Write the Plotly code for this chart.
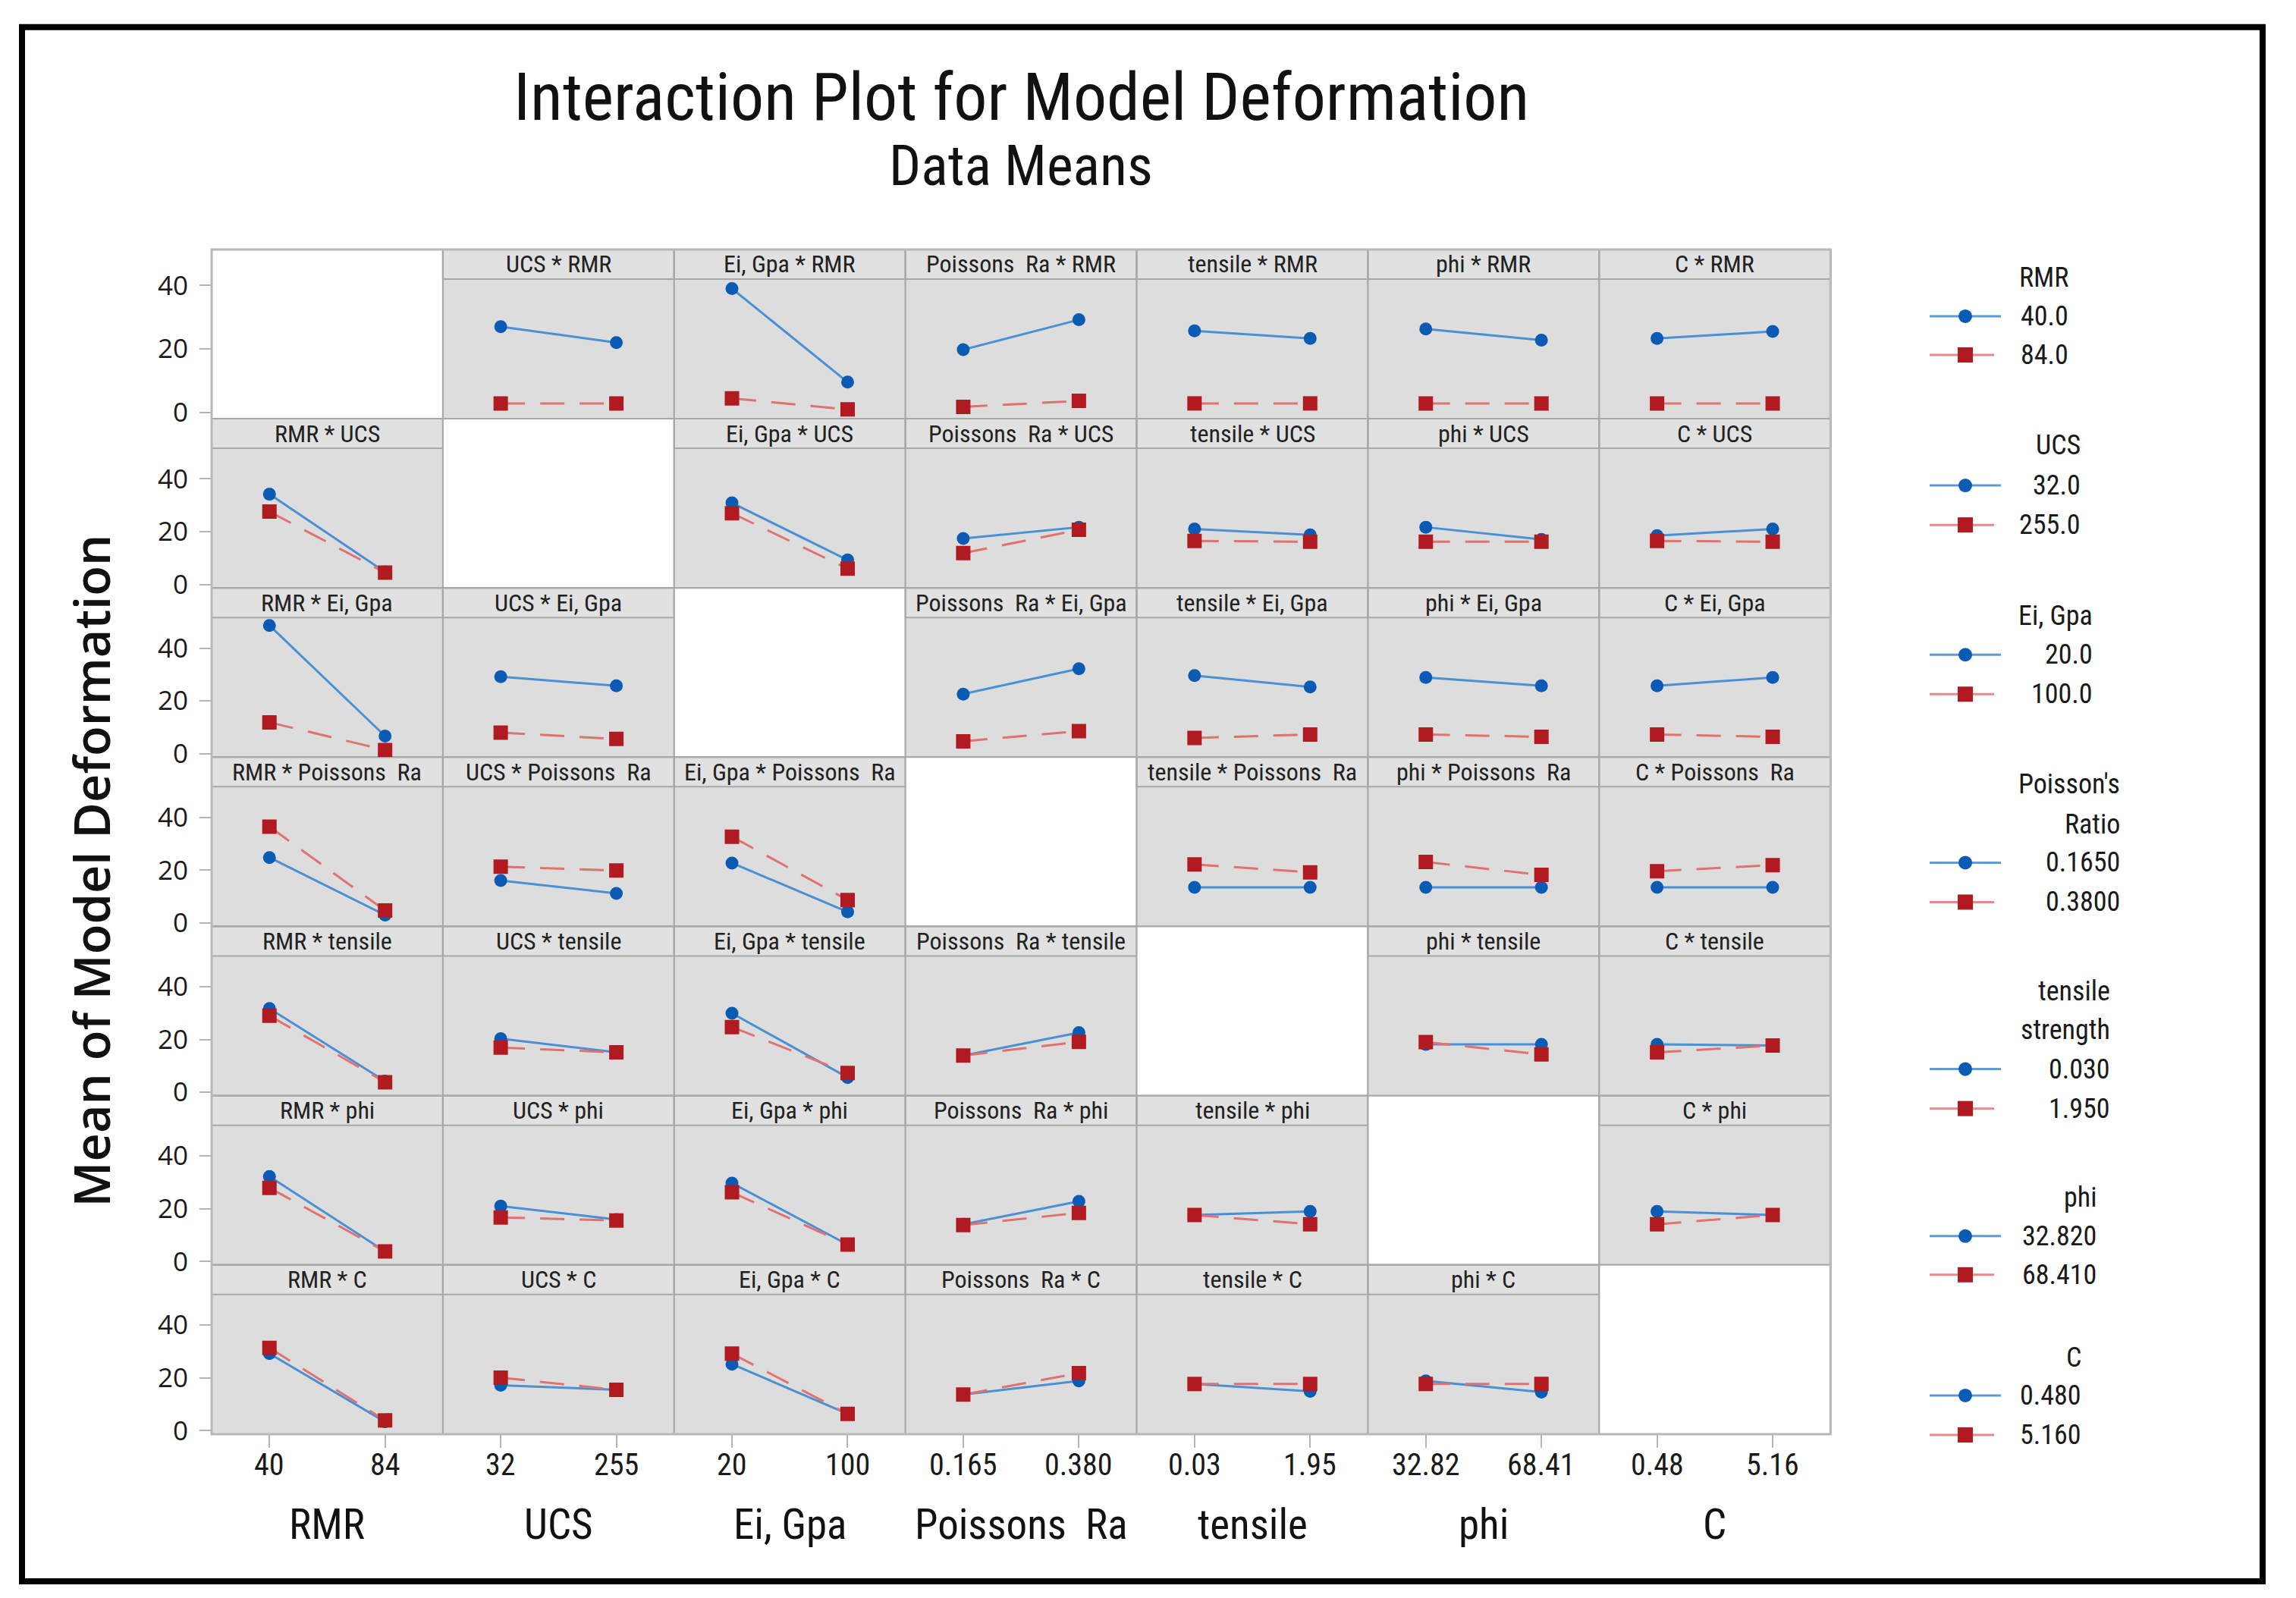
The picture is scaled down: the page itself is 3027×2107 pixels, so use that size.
import plotly.graph_objects as go

W, H = 3027, 2107

# ---------------- data ----------------
factors = ["RMR", "UCS", "Ei, Gpa", "Poissons  Ra", "tensile", "phi", "C"]
tick_labels = [["40", "84"], ["32", "255"], ["20", "100"], ["0.165", "0.380"],
               ["0.03", "1.95"], ["32.82", "68.41"], ["0.48", "5.16"]]
legend_titles = [["RMR"], ["UCS"], ["Ei, Gpa"], ["Poisson's", "Ratio"],
                 ["tensile", "strength"], ["phi"], ["C"]]
legend_levels = [["40.0", "84.0"], ["32.0", "255.0"], ["20.0", "100.0"], ["0.1650", "0.3800"],
                 ["0.030", "1.950"], ["32.820", "68.410"], ["0.480", "5.160"]]
y_ticks = [0, 20, 40]

# mean deformation; row factor at low level (blue) / high level (red);
# one pair per column factor: (column factor low, column factor high)
rmr_low  = [None, [27.0, 22.0], [39.0, 9.6], [19.8, 29.2], [25.7, 23.3], [26.3, 22.8], [23.3, 25.5]]
rmr_high = [None, [2.9, 2.9], [4.5, 1.0], [1.8, 3.7], [2.9, 2.9], [2.9, 2.9], [2.9, 2.9]]
ucs_low  = [[34.2, 4.7], None, [30.9, 9.3], [17.4, 21.7], [21.0, 18.8], [21.7, 17.1], [18.5, 21.0]]
ucs_high = [[27.6, 4.5], None, [27.0, 6.0], [11.9, 20.7], [16.5, 16.2], [16.2, 16.2], [16.5, 16.2]]
ei_low   = [[48.6, 6.7], [29.2, 25.7], None, [22.6, 32.2], [29.6, 25.3], [28.9, 25.7], [25.7, 28.9]]
ei_high  = [[11.9, 1.4], [8.0, 5.6], None, [4.7, 8.6], [6.0, 7.3], [7.3, 6.4], [7.3, 6.4]]
poi_low  = [[24.8, 3.0], [16.1, 11.2], [22.7, 4.2], None, [13.5, 13.5], [13.5, 13.5], [13.5, 13.5]]
poi_high = [[36.5, 4.7], [21.3, 19.9], [32.7, 8.7], None, [22.2, 19.2], [23.1, 18.2], [19.6, 21.9]]
ten_low  = [[31.7, 4.2], [20.3, 15.1], [29.9, 5.6], [13.9, 22.6], None, [18.1, 18.1], [18.1, 17.7]]
ten_high = [[29.0, 3.8], [16.9, 15.1], [24.7, 7.3], [13.9, 19.1], None, [19.0, 14.3], [15.1, 17.7]]
phi_low  = [[32.2, 3.8], [21.0, 15.9], [29.7, 6.4], [14.1, 22.8], [17.6, 19.0], None, [19.0, 17.6]]
phi_high = [[27.9, 3.8], [16.7, 15.5], [26.2, 6.4], [13.8, 18.4], [17.6, 14.1], None, [14.1, 17.6]]
c_low    = [[29.2, 3.4], [17.2, 15.5], [25.2, 6.4], [13.7, 18.9], [17.7, 14.9], [18.9, 14.6], None]
c_high   = [[31.4, 3.9], [20.1, 15.5], [29.2, 6.4], [13.7, 21.8], [17.7, 17.7], [17.7, 17.7], None]

rows_low = [rmr_low, ucs_low, ei_low, poi_low, ten_low, phi_low, c_low]
rows_high = [rmr_high, ucs_high, ei_high, poi_high, ten_high, phi_high, c_high]

# ---------------- styles / layout ----------------
NARROW = "Roboto Condensed, Roboto, Liberation Sans, sans-serif"
REG = "Open Sans, Noto Sans, sans-serif"
BLUE_M, BLUE_L = "#0b5bb5", "#4a90d4"
RED_M, RED_L = "#b01a20", "#e07272"
PANEL_BG, HEAD_BG, EDGE = "#dddddd", "#e1e1e1", "#a8a8a8"
TXT = "#1a1a1a"

GX0, CW = 279.0, 304.9
GY0, RH, HDR = 328.0, 223.0, 39.0
row_ranges = [[-1.9, 42.0]] + [[-1.3, 51.6]] * 6

# vertical calibration of the photographed page
VS, VO = 1.0171, -15.6


def fx(p):
    return p / W


def fy(p):
    return 1 - (VS * p + VO) / H


fig = go.Figure()
shapes, annotations, axes = [], [], {}

for r in range(7):
    for c in range(7):
        k = r * 7 + c + 1
        sfx = "" if k == 1 else str(k)
        x0 = GX0 + c * CW
        x1 = x0 + CW
        ytop = GY0 + r * RH
        ybot = ytop + RH
        yplot = ytop + HDR
        axes["xaxis" + sfx] = dict(
            domain=[fx(x0), fx(x1)], range=[-0.5, 1.5], anchor="y" + sfx,
            tickvals=[0, 1], ticktext=tick_labels[c], showticklabels=False,
            ticks="outside" if r == 6 else "", ticklen=17, tickwidth=2, tickcolor="#b4b4b4",
            showgrid=False, zeroline=False, showline=False, fixedrange=True)
        axes["yaxis" + sfx] = dict(
            domain=[fy(ybot), fy(yplot)], range=row_ranges[r], anchor="x" + sfx,
            tickvals=y_ticks, showticklabels=(c == 0),
            ticks="outside" if c == 0 else "", ticklen=15, tickwidth=2, tickcolor="#b4b4b4",
            showgrid=False, zeroline=False, showline=False, fixedrange=True,
            ticklabelstandoff=8,
            tickfont=dict(family=REG, size=35, color=TXT))

        if r == 6:
            # level labels under the bottom row, placed on the axis scale
            for lv in (0, 1):
                annotations.append(dict(xref="x" + sfx, yref="paper", x=lv, y=fy(1930),
                                        text=tick_labels[c][lv], showarrow=False,
                                        xanchor="center", yanchor="middle",
                                        font=dict(family=NARROW, size=40, color=TXT)))

        if r == c:
            shapes.append(dict(type="rect", xref="paper", yref="paper", layer="below",
                               x0=fx(x0), x1=fx(x1), y0=fy(ybot), y1=fy(ytop),
                               fillcolor="white", line=dict(width=0)))
            # empty trace so the axis ticks of this cell are drawn
            fig.add_trace(go.Scatter(x=[None], y=[None], xaxis="x" + sfx, yaxis="y" + sfx,
                                     mode="markers", showlegend=False, hoverinfo="skip"))
        else:
            shapes.append(dict(type="rect", xref="paper", yref="paper", layer="below",
                               x0=fx(x0), x1=fx(x1), y0=fy(ybot), y1=fy(yplot),
                               fillcolor=PANEL_BG, line=dict(width=0)))
            shapes.append(dict(type="rect", xref="paper", yref="paper", layer="below",
                               x0=fx(x0), x1=fx(x1), y0=fy(yplot), y1=fy(ytop),
                               fillcolor=HEAD_BG, line=dict(color=EDGE, width=2)))
            annotations.append(dict(xref="paper", yref="paper", x=fx((x0 + x1) / 2),
                                    y=fy(ytop + HDR / 2), text=f"{factors[c]} * {factors[r]}",
                                    showarrow=False, xanchor="center", yanchor="middle",
                                    font=dict(family=NARROW, size=32, color="#222222")))
            fig.add_trace(go.Scatter(
                x=[0, 1], y=rows_low[r][c], xaxis="x" + sfx, yaxis="y" + sfx,
                mode="lines+markers", line=dict(color=BLUE_L, width=3),
                marker=dict(symbol="circle", size=17, color=BLUE_M),
                showlegend=False, hoverinfo="skip"))
            fig.add_trace(go.Scatter(
                x=[0, 1], y=rows_high[r][c], xaxis="x" + sfx, yaxis="y" + sfx,
                mode="lines+markers", line=dict(color=RED_L, width=3, dash="32px,20px"),
                marker=dict(symbol="square", size=19, color=RED_M),
                showlegend=False, hoverinfo="skip"))
        shapes.append(dict(type="rect", xref="paper", yref="paper", layer="below",
                           x0=fx(x0), x1=fx(x1), y0=fy(ybot), y1=fy(ytop),
                           fillcolor="rgba(0,0,0,0)", line=dict(color=EDGE, width=2)))

# x-axis factor titles
for c in range(7):
    xc = GX0 + c * CW + CW / 2
    annotations.append(dict(xref="paper", yref="paper", x=fx(xc), y=fy(2008),
                            text=factors[c], showarrow=False, xanchor="center", yanchor="middle",
                            font=dict(family=NARROW, size=55, color="#111111")))

# outer grid border
shapes.append(dict(type="rect", xref="paper", yref="paper", layer="below",
                   x0=fx(GX0), x1=fx(GX0 + 7 * CW), y0=fy(GY0 + 7 * RH), y1=fy(GY0),
                   fillcolor="rgba(0,0,0,0)", line=dict(color="#b8b8b8", width=3)))

# titles
annotations.append(dict(xref="paper", yref="paper", x=fx(1346), y=fy(127),
                        text="Interaction Plot for Model Deformation", showarrow=False,
                        xanchor="center", yanchor="middle",
                        font=dict(family=NARROW, size=88, color="#111111")))
annotations.append(dict(xref="paper", yref="paper", x=fx(1346), y=fy(218),
                        text="Data Means", showarrow=False, xanchor="center", yanchor="middle",
                        font=dict(family=NARROW, size=74, color="#111111")))
annotations.append(dict(xref="paper", yref="paper", x=fx(120), y=fy(1147),
                        text="Mean of Model Deformation", showarrow=False, textangle=-90,
                        xanchor="center", yanchor="middle",
                        font=dict(family=REG, size=65, color="#111111", weight=600)))

# legend (drawn manually)
leg_title_y = [[365], [586], [811], [1033, 1086], [1305, 1356], [1577], [1788]]
leg_entry_y = [[416, 467], [639, 691], [862, 914], [1136, 1188], [1408, 1460], [1628, 1679],
               [1838, 1890]]
leg_right = [2729, 2745, 2761, 2797, 2784, 2766, 2746]
LX0, LX1, LXC = 2544, 2638, 2591
for g in range(7):
    for t, ty in zip(legend_titles[g], leg_title_y[g]):
        annotations.append(dict(xref="paper", yref="paper", x=fx(leg_right[g]), y=fy(ty),
                                text=t, showarrow=False, xanchor="right", yanchor="middle",
                                font=dict(family=NARROW, size=36, color=TXT)))
    for i, ey in enumerate(leg_entry_y[g]):
        annotations.append(dict(xref="paper", yref="paper", x=fx(leg_right[g]), y=fy(ey),
                                text=legend_levels[g][i], showarrow=False, xanchor="right",
                                yanchor="middle",
                                font=dict(family=NARROW, size=36, color=TXT)))
        if i == 0:
            shapes.append(dict(type="line", xref="paper", yref="paper", x0=fx(LX0), x1=fx(LX1),
                               y0=fy(ey), y1=fy(ey), line=dict(color="#5d9ad6", width=3)))
            shapes.append(dict(type="circle", xref="paper", yref="paper",
                               x0=fx(LXC - 9), x1=fx(LXC + 9), y0=fy(ey + 9), y1=fy(ey - 9),
                               fillcolor=BLUE_M, line=dict(width=0)))
        else:
            shapes.append(dict(type="line", xref="paper", yref="paper", x0=fx(LX0), x1=fx(LX1 - 9),
                               y0=fy(ey), y1=fy(ey), line=dict(color="#e88a8a", width=3)))
            shapes.append(dict(type="rect", xref="paper", yref="paper",
                               x0=fx(LXC - 10), x1=fx(LXC + 10), y0=fy(ey + 10), y1=fy(ey - 10),
                               fillcolor=RED_M, line=dict(width=0)))

# black frame
shapes.append(dict(type="rect", xref="paper", yref="paper", x0=fx(29), x1=fx(2983),
                   y0=fy(2083), y1=fy(35), fillcolor="rgba(0,0,0,0)",
                   line=dict(color="black", width=8)))

fig.update_layout(width=W, height=H, margin=dict(l=0, r=0, t=0, b=0),
                  paper_bgcolor="white", plot_bgcolor="rgba(0,0,0,0)",
                  showlegend=False, shapes=shapes, annotations=annotations, **axes)

PIN = ("document.documentElement.style.margin='0';"
       "document.documentElement.style.overflow='hidden';"
       "document.body.style.margin='0';document.body.style.overflow='hidden';"
       "var gd=document.querySelector('.plotly-graph-div');"
       "if(gd){gd.style.position='fixed';gd.style.top='0px';gd.style.left='0px';}")

fig.write_html("out.html", config={"displayModeBar": False}, post_script=PIN)
